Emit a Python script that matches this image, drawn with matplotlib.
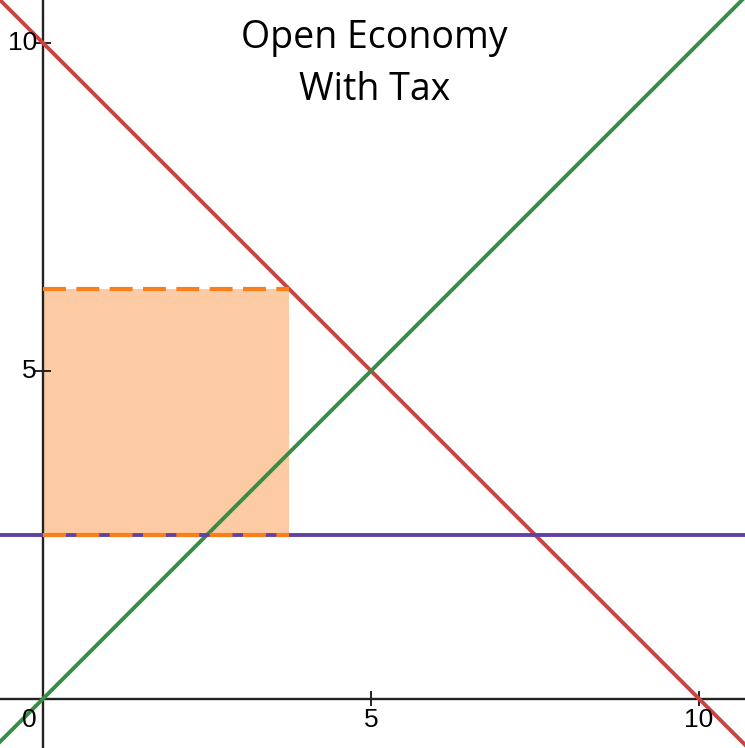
import numpy as np
import matplotlib.pyplot as plt

# Data
x_range = [-0.655, 10.70]
y_range = [-0.75, 10.655]
demand = [10, -1]        # intercept, slope  (y = 10 - x)
supply = [0, 1]          # y = x
world_price = 2.5
tax_price = 6.25
import_qty = 3.75
tick_vals = [5, 10]
tick_labels = ["5", "10"]

fig = plt.figure(figsize=(7.45, 7.48), dpi=100)
ax = fig.add_axes([0, 0, 1, 1])
ax.set_xlim(x_range)
ax.set_ylim(y_range)
for s in ax.spines.values():
    s.set_visible(False)
ax.set_xticks([])
ax.set_yticks([])

# Axes lines
ax.axhline(0, color="#222222", lw=1.7, zorder=2)
ax.axvline(0, color="#222222", lw=1.7, zorder=2)

xs = np.array(x_range)
# Shaded area
ax.fill_between([0, import_qty], world_price, tax_price, color="#fa7e19", alpha=0.4, lw=0, zorder=1)

ax.plot(xs, demand[0] + demand[1] * xs, color="#c74440", lw=2.8, zorder=3)
ax.plot(xs, supply[0] + supply[1] * xs, color="#388c46", lw=2.8, zorder=3)
ax.axhline(world_price, color="#6042a6", lw=2.8, zorder=3)
ax.plot([0, import_qty], [tax_price, tax_price], color="#fa7e19", lw=3, ls=(0, (5.5, 2.5)), zorder=4)
ax.plot([0, import_qty], [world_price, world_price], color="#fa7e19", lw=3, ls=(0, (5.5, 2.5)), zorder=4)

# Ticks and labels
tick_len = 0.1
for v, lab in zip(tick_vals, tick_labels):
    ax.plot([v, v], [-tick_len, tick_len], color="#222222", lw=1.4)
    ax.plot([-tick_len, tick_len], [v, v], color="#222222", lw=1.4)
    ax.text(v, -0.14, lab, ha="center", va="top", fontsize=19, family="Liberation Sans")
    ax.text(-0.09, v, lab, ha="right", va="center", fontsize=19, family="Liberation Sans")
ax.text(-0.09, -0.14, "0", ha="right", va="top", fontsize=19, family="Liberation Sans")

ax.text(5.05, 9.68, "Open Economy\nWith Tax", ha="center", va="center", fontsize=27,
        family="Open Sans", linespacing=1.5)

fig.savefig("out.png", dpi=100)
